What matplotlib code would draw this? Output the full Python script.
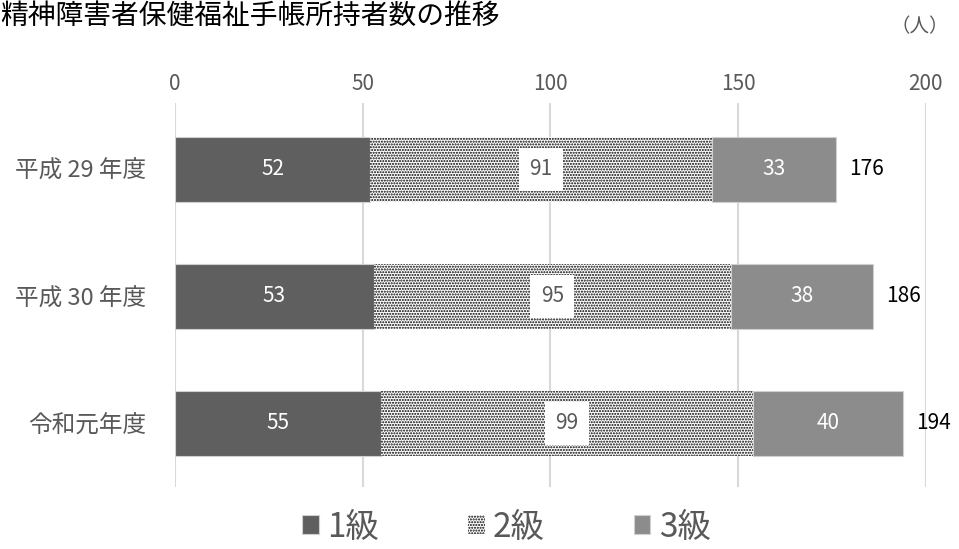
import matplotlib
matplotlib.use("Agg")
import matplotlib.pyplot as plt
import numpy as np

plt.rcParams['font.family'] = ['Noto Sans CJK JP', 'DejaVu Sans']
plt.rcParams['hatch.linewidth'] = 1.0

title = "精神障害者保健福祉手帳所持者数の推移"
categories = ["平成 29 年度", "平成 30 年度", "令和元年度"]
series_names = ["1級", "2級", "3級"]
grade1 = [52, 53, 55]
grade2 = [91, 95, 99]
grade3 = [33, 38, 40]
totals = [176, 186, 194]
xticks = [0, 50, 100, 150, 200]

fig = plt.figure(figsize=(9.59, 5.49), dpi=100)
ax = fig.add_axes([175/959, 1-487/549, (925.7-175)/959, (487-103)/549])

y = np.arange(len(categories))
h = 0.51
c1 = '#5f5f5f'
c3 = '#8c8c8c'
tc = '#595959'

g1 = np.array(grade1); g2 = np.array(grade2); g3 = np.array(grade3)
b1 = ax.barh(y, g1, height=h, color=c1, edgecolor='#d0d0d0', linewidth=0.8, label=series_names[0], zorder=3)
b2 = ax.barh(y, g2, left=g1, height=h, facecolor='white', edgecolor='black', hatch='......', linewidth=0, label=series_names[1], zorder=3)
b3 = ax.barh(y, g3, left=g1+g2, height=h, color=c3, edgecolor='#d0d0d0', linewidth=0.8, label=series_names[2], zorder=3)

for i in range(len(categories)):
    ax.text(g1[i]/2, y[i], str(grade1[i]), ha='center', va='center', color='white', fontsize=15, zorder=5)
    ax.text(g1[i]+g2[i]/2, y[i], str(grade2[i]), ha='center', va='center', color=tc, fontsize=15, zorder=5,
            bbox=dict(boxstyle='square,pad=0.5', fc='white', ec='none'))
    ax.text(g1[i]+g2[i]+g3[i]/2, y[i], str(grade3[i]), ha='center', va='center', color='white', fontsize=15, zorder=5)
    ax.text(totals[i]+3.5, y[i], str(totals[i]), ha='left', va='center', color='black', fontsize=15, zorder=5)

ax.set_xlim(0, 200)
ax.set_ylim(2.5, -0.52)
ax.set_xticks(xticks)
ax.xaxis.tick_top()
ax.tick_params(axis='x', length=0, pad=6, labelsize=15, labelcolor=tc)
ax.set_yticks(y)
ax.set_yticklabels(categories)
ax.tick_params(axis='y', length=0, pad=21, labelsize=17, labelcolor=tc)
ax.grid(axis='x', color='#d9d9d9', linewidth=1.5, zorder=0)
for s in ax.spines.values():
    s.set_visible(False)

fig.text(0.0, 0.998, title, ha='left', va='top', fontsize=20, color='black')
fig.text(0.99, 0.97, "（人）", ha='right', va='top', fontsize=14, color=tc)

leg = fig.legend(handles=[b1, b2, b3], labels=series_names, loc='center', bbox_to_anchor=(0.528, 0.04),
                 ncol=3, frameon=False, fontsize=24, handlelength=0.5, handleheight=0.5,
                 handletextpad=0.25, columnspacing=2.67, labelcolor=tc)

fig.savefig("out.png", dpi=100)
